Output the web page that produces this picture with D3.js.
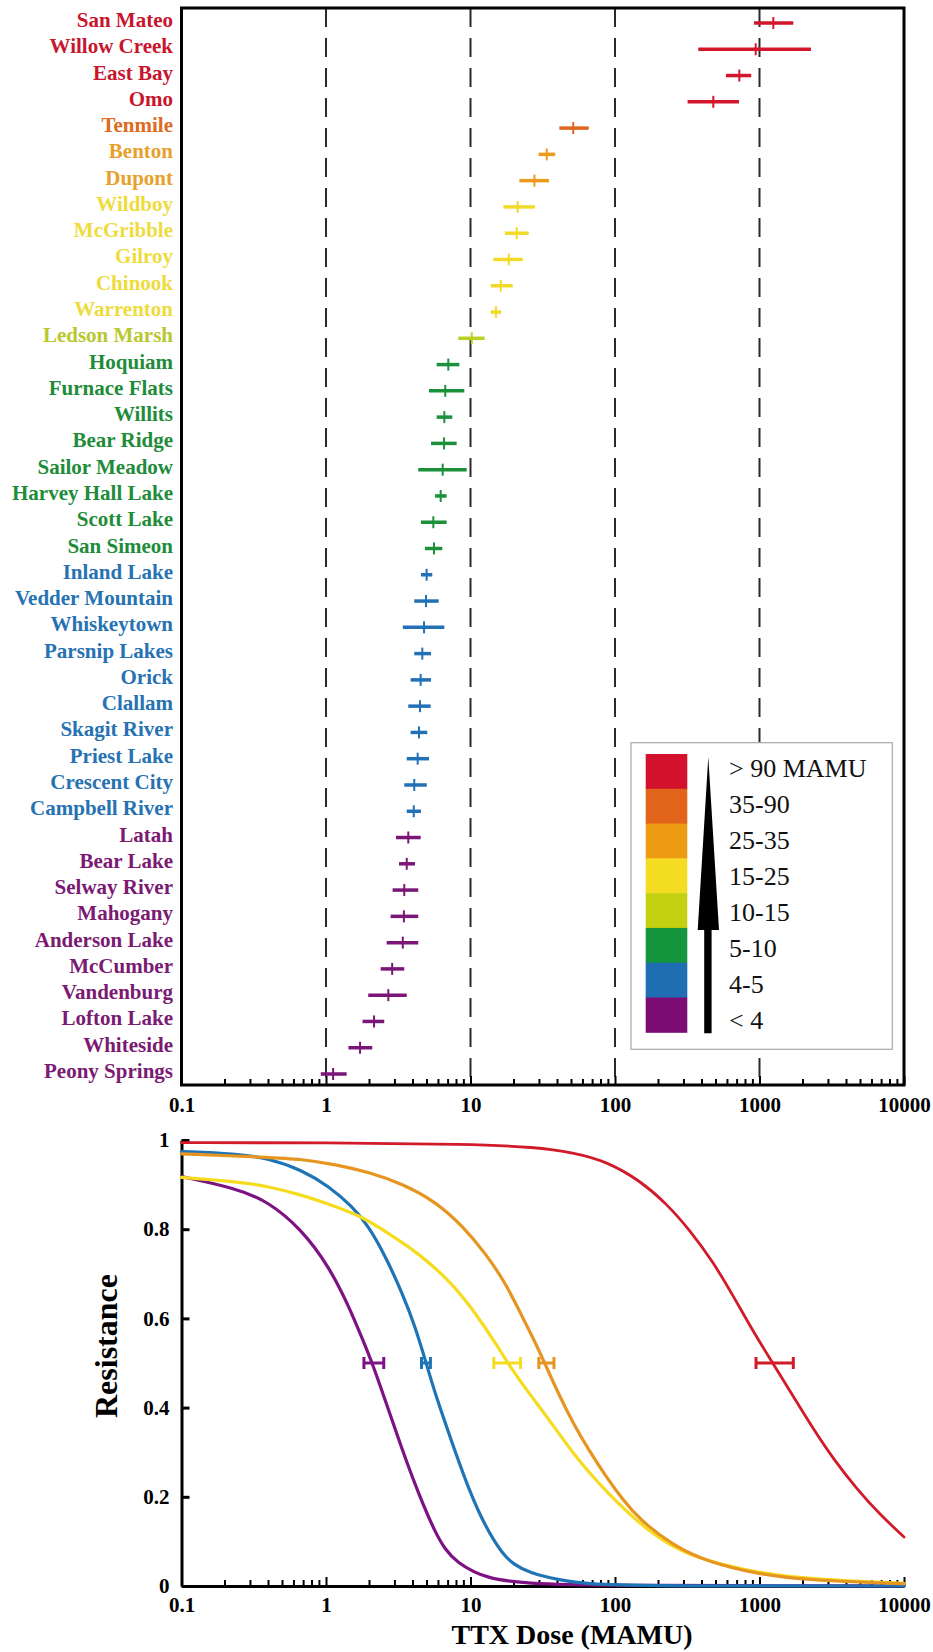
<!DOCTYPE html>
<html><head><meta charset="utf-8">
<script src="https://cdn.jsdelivr.net/npm/d3@7"></script>
<style>
body{margin:0;background:#fff}
svg{display:block}
text{font-family:"Liberation Serif","Times New Roman",serif}
</style>
</head><body>
<svg id="c" width="933" height="1652"></svg>
<script>
// ---------- DATA ----------
const populations = ["San Mateo","Willow Creek","East Bay","Omo","Tenmile","Benton","Dupont","Wildboy","McGribble","Gilroy","Chinook","Warrenton","Ledson Marsh","Hoquiam","Furnace Flats","Willits","Bear Ridge","Sailor Meadow","Harvey Hall Lake","Scott Lake","San Simeon","Inland Lake","Vedder Mountain","Whiskeytown","Parsnip Lakes","Orick","Clallam","Skagit River","Priest Lake","Crescent City","Campbell River","Latah","Bear Lake","Selway River","Mahogany","Anderson Lake","McCumber","Vandenburg","Lofton Lake","Whiteside","Peony Springs"];
const centerDose = [1247,941,725,479,51.4,33.7,27.7,21.2,20.9,18.4,16.2,15.0,10.2,7.02,6.69,6.59,6.56,6.42,6.22,5.53,5.59,4.97,4.92,4.77,4.64,4.52,4.47,4.40,4.31,4.08,4.05,3.71,3.62,3.48,3.46,3.40,2.87,2.70,2.15,1.72,1.12];
const lowDose = [916,377,586,318,41.2,29.6,21.8,16.9,17.3,14.4,13.8,13.8,8.24,5.83,5.16,5.83,5.33,4.35,5.68,4.54,4.84,4.54,4.08,3.40,4.08,3.85,3.71,3.85,3.62,3.48,3.62,3.05,3.20,2.89,2.80,2.63,2.39,1.96,1.79,1.43,0.92];
const highDose = [1714,2270,877,721,65.8,38.6,34.9,27.9,25.3,23.0,19.6,16.3,12.5,8.37,9.06,7.48,8.02,9.41,6.84,6.84,6.38,5.44,6.02,6.59,5.33,5.33,5.30,5.02,5.16,4.98,4.54,4.52,4.13,4.35,4.35,4.35,3.48,3.62,2.53,2.09,1.39];
const groupIndex = [0,0,0,0,1,2,2,3,3,3,3,3,4,5,5,5,5,5,5,5,5,6,6,6,6,6,6,6,6,6,6,7,7,7,7,7,7,7,7,7,7];

const legendLabels = ["> 90 MAMU","35-90","25-35","15-25","10-15","5-10","4-5","< 4"];
const legendColors = ["#d3112c","#e2641b","#ed9b12","#f4dc23","#c4d110","#15953d","#1f6eb4","#7c0b74"];
const barColors    = ["#d3162c","#e2671e","#eb9a1c","#f2da2a","#bccf22","#1b913b","#2271b5","#7b1577"];
const labelColors  = ["#c8162e","#de6a22","#e8a02c","#eedb3c","#b8c82e","#1f8c3a","#2672b2","#7a1a72"];

const doseTicks = [0.1,1,10,100,1000,10000];
const dashedDoses = [1,10,100,1000];
const resistanceTicks = [0,0.2,0.4,0.6,0.8,1];

// dose-response curves: [dose, resistance]
const curveNames  = ["< 4","4-5","15-25","25-35","> 90"];
const curveColors = ["#7d1283","#1f74b6","#f5dc1e","#e59520","#d11a2a"];
const purpleCurve = [[0.1,0.918],[0.237,0.892],[0.40,0.862],[0.68,0.799],[1.05,0.716],[1.44,0.627],[1.78,0.555],[2.09,0.500],[2.58,0.415],[3.37,0.305],[4.39,0.205],[5.73,0.118],[6.7,0.082],[7.87,0.055],[12.7,0.015],[28,0.004],[100,0.001],[10000,0]];
const blueCurve   = [[0.1,0.974],[0.237,0.969],[0.40,0.959],[0.68,0.933],[1.05,0.896],[1.52,0.851],[1.98,0.806],[2.58,0.739],[3.37,0.657],[4.16,0.580],[4.88,0.505],[5.73,0.428],[7.46,0.321],[9.73,0.216],[12.7,0.132],[16.6,0.072],[20,0.048],[25.3,0.030],[40.9,0.013],[70,0.003],[200,0],[10000,0]];
const yellowCurve = [[0.1,0.916],[0.237,0.907],[0.40,0.896],[0.68,0.877],[1.16,0.851],[1.78,0.828],[2.58,0.795],[4.39,0.746],[7.46,0.679],[10.8,0.612],[14.9,0.545],[18.4,0.496],[25.3,0.433],[30.3,0.400],[39.5,0.349],[51.5,0.297],[67.2,0.252],[87.6,0.211],[149,0.138],[254,0.085],[432,0.056],[957,0.030],[2123,0.016],[10000,0.006]];
const orangeCurve = [[0.1,0.969],[0.40,0.961],[0.68,0.957],[1.16,0.945],[1.98,0.928],[3.37,0.902],[5.73,0.862],[8.75,0.808],[12.7,0.746],[17.5,0.679],[22.8,0.604],[28.2,0.545],[33.0,0.496],[41.6,0.424],[51.5,0.364],[67.2,0.300],[87.6,0.243],[114,0.192],[149,0.148],[254,0.090],[432,0.055],[957,0.027],[2123,0.013],[10000,0.005]];
const redCurve    = [[0.1,0.994],[1,0.994],[10,0.991],[28,0.984],[51.5,0.972],[87.6,0.952],[149,0.909],[228,0.857],[331,0.797],[479,0.726],[659,0.650],[906,0.570],[1250,0.497],[1714,0.425],[2356,0.352],[3241,0.285],[4700,0.218],[6820,0.160],[10000,0.110]];
const curves = [purpleCurve, blueCurve, yellowCurve, orangeCurve, redCurve];
const ec50Low  = [1.83, 4.58, 14.5, 29.7, 946];
const ec50Mid  = [2.1, 4.9, 18.0, 33.5, 1300];
const ec50High = [2.51, 5.28, 22.2, 37.8, 1714];

// ---------- DRAW ----------
const svg = d3.select("#c");
const FONT = '"Liberation Serif","Times New Roman",serif';

const x = d3.scaleLog().domain([0.1,10000]).range([181.5,904]);
const minorTicks = [];
[0.1,1,10,100,1000].forEach(dec => { for (let m=2;m<=9;m++) minorTicks.push(dec*m); });

// ===== top chart =====
const topC = {t:8, b:1085};
const y1 = d3.scalePoint().domain(populations).range([23,1074]);

svg.append("g").selectAll("line").data(dashedDoses).join("line")
  .attr("x1",d=>x(d)).attr("x2",d=>x(d)).attr("y1",topC.t).attr("y2",topC.b)
  .attr("stroke","#2a2a2a").attr("stroke-width",2).attr("stroke-dasharray","19,11");

svg.append("g").selectAll("line").data(minorTicks).join("line")
  .attr("x1",d=>x(d)).attr("x2",d=>x(d)).attr("y1",topC.b).attr("y2",topC.b-6)
  .attr("stroke","#000").attr("stroke-width",2);

const axTop = svg.append("g").attr("transform",`translate(0,${topC.b})`)
  .call(d3.axisBottom(x).tickValues(doseTicks).tickFormat(d3.format("~g")).tickSizeInner(-9).tickSizeOuter(0).tickPadding(12));
axTop.select(".domain").remove();
axTop.selectAll("line").attr("stroke","#000").attr("stroke-width",2);
axTop.selectAll("text").attr("font-family",FONT).attr("font-weight","bold").attr("font-size",21).attr("fill","#000");

svg.append("rect").attr("x",x(0.1)).attr("y",topC.t).attr("width",x(10000)-x(0.1)).attr("height",topC.b-topC.t)
  .attr("fill","none").attr("stroke","#000").attr("stroke-width",3);

svg.append("g").selectAll("text").data(populations).join("text")
  .attr("x",173).attr("y",d=>y1(d)+4).attr("text-anchor","end")
  .attr("font-family",FONT).attr("font-weight","bold").attr("font-size",21)
  .attr("fill",(d,i)=>labelColors[groupIndex[i]]).text(d=>d);

const bars = svg.append("g");
bars.selectAll("line.r").data(populations).join("line").attr("class","r")
  .attr("x1",(d,i)=>x(lowDose[i])).attr("x2",(d,i)=>x(highDose[i]))
  .attr("y1",d=>y1(d)).attr("y2",d=>y1(d))
  .attr("stroke",(d,i)=>barColors[groupIndex[i]]).attr("stroke-width",3.5);
bars.selectAll("line.c").data(populations).join("line").attr("class","c")
  .attr("x1",(d,i)=>x(centerDose[i])).attr("x2",(d,i)=>x(centerDose[i]))
  .attr("y1",d=>y1(d)-6).attr("y2",d=>y1(d)+6)
  .attr("stroke",(d,i)=>barColors[groupIndex[i]]).attr("stroke-width",2);

// legend
const lg = svg.append("g");
lg.append("rect").attr("x",631).attr("y",742.7).attr("width",261.3).attr("height",306.6)
  .attr("fill","#fff").attr("stroke","#a8a8a8").attr("stroke-width",1.2);
const sw = d3.scaleBand().domain(legendLabels).range([754,1032.3]);
lg.selectAll("rect.s").data(legendLabels).join("rect").attr("class","s")
  .attr("x",645.7).attr("y",d=>sw(d)).attr("width",41.6).attr("height",sw.bandwidth()+0.5)
  .attr("fill",(d,i)=>legendColors[i]);
const lt = d3.scalePoint().domain(legendLabels).range([768.3,1020]);
lg.selectAll("text").data(legendLabels).join("text")
  .attr("x",729).attr("y",d=>lt(d)).attr("dy","0.35em")
  .attr("font-family",FONT).attr("font-size",26).attr("fill","#111").text(d=>d);
lg.append("path").attr("d","M704.2,1033.3 L704.2,930 L697.7,930 L708.3,757 L719,930 L711.6,930 L711.6,1033.3 Z").attr("fill","#000");

// ===== bottom chart =====
const y2 = d3.scaleLinear().domain([0,1]).range([1586,1140]);

svg.append("g").selectAll("line").data(minorTicks).join("line")
  .attr("x1",d=>x(d)).attr("x2",d=>x(d)).attr("y1",y2(0)).attr("y2",y2(0)-6)
  .attr("stroke","#000").attr("stroke-width",2);

const axB = svg.append("g").attr("transform",`translate(0,${y2(0)})`)
  .call(d3.axisBottom(x).tickValues(doseTicks).tickFormat(d3.format("~g")).tickSizeInner(-9).tickSizeOuter(0).tickPadding(11));
axB.select(".domain").attr("stroke","#000").attr("stroke-width",3);
axB.selectAll("line").attr("stroke","#000").attr("stroke-width",2);
axB.selectAll("text").attr("font-family",FONT).attr("font-weight","bold").attr("font-size",21).attr("fill","#000");

const axL = svg.append("g").attr("transform",`translate(${x(0.1)},0)`)
  .call(d3.axisLeft(y2).tickValues(resistanceTicks).tickFormat(d3.format("~g")).tickSizeInner(-8).tickSizeOuter(0).tickPadding(12));
axL.select(".domain").attr("stroke","#000").attr("stroke-width",3);
axL.selectAll("line").attr("stroke","#000").attr("stroke-width",3);
axL.selectAll("text").attr("font-family",FONT).attr("font-weight","bold").attr("font-size",21).attr("fill","#000");

const line = d3.line().x(d=>x(d[0])).y(d=>y2(d[1])).curve(d3.curveBasis);
svg.append("g").selectAll("path").data(curves).join("path")
  .attr("d",line).attr("fill","none").attr("stroke-linecap","round")
  .attr("stroke",(d,i)=>curveColors[i]).attr("stroke-width",(d,i)=>i===4?2.8:3.2);

const eb = svg.append("g");
curveNames.forEach((n,i)=>{
  const g = eb.append("g").attr("stroke",curveColors[i]).attr("stroke-width",3);
  g.append("line").attr("x1",x(ec50Low[i])).attr("x2",x(ec50High[i])).attr("y1",y2(0.5)).attr("y2",y2(0.5));
  [ec50Low[i],ec50High[i]].forEach(v=>g.append("line").attr("x1",x(v)).attr("x2",x(v)).attr("y1",y2(0.5)-6).attr("y2",y2(0.5)+6));
});

svg.append("text").attr("transform","translate(117,1346) rotate(-90)").attr("text-anchor","middle")
  .attr("font-family",FONT).attr("font-weight","bold").attr("font-size",32).attr("fill","#000").text("Resistance");
svg.append("text").attr("x",572).attr("y",1644).attr("text-anchor","middle")
  .attr("font-family",FONT).attr("font-weight","bold").attr("font-size",28).attr("fill","#000").text("TTX Dose (MAMU)");
</script>
</body></html>
